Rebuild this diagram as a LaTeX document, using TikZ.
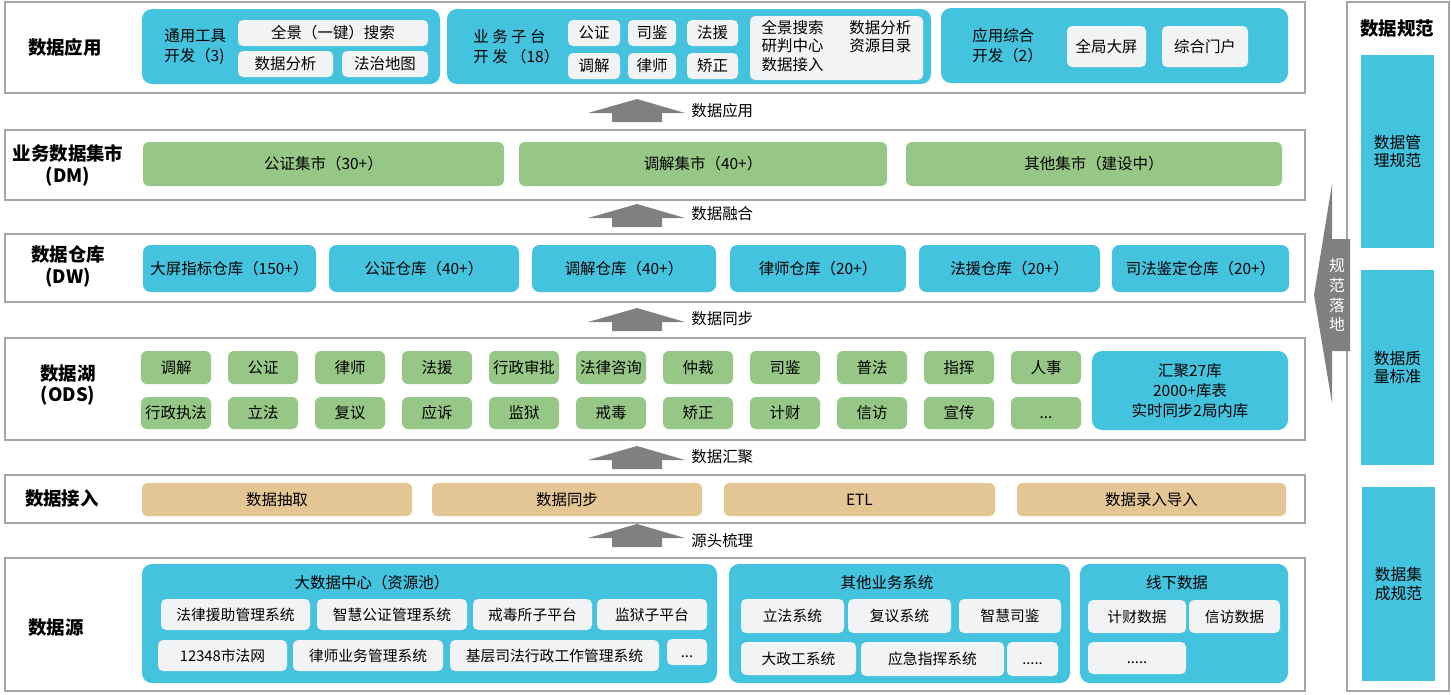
\documentclass[tikz,border=0pt]{standalone}
\usepackage{fontspec}
\setmainfont{Noto Sans CJK SC}
\usetikzlibrary{positioning}

\definecolor{cyanfill}{HTML}{44C3DF}
\definecolor{greenfill}{HTML}{97C786}
\definecolor{tanfill}{HTML}{E4C594}
\definecolor{palefill}{HTML}{F2F3F5}
\definecolor{framegray}{HTML}{A5A5A5}
\definecolor{arrowgray}{HTML}{808080}

% block arrow between two layers: tip y, label y, name, label
\newcommand{\layerarrow}[4]{%
  \fill[arrowgray] (588,#1+14) -- (637,#1) -- (685,#1+14) -- (662,#1+14)
    -- (662,#1+23) -- (612,#1+23) -- (612,#1+14) -- cycle;
  \node[flowtag, anchor=west] (#3) at (691,#2) {#4};
}

\begin{document}
\begin{tikzpicture}[x=0.02cm, y=-0.02cm, font=\fontsize{8.8}{10.5}\selectfont]
\tikzset{
    rect/.style n args={4}{at={({((#1)+(#3))/2},{((#2)+(#4))/2})},
      minimum width={((#3)-(#1))*0.02cm}, minimum height={((#4)-(#2))*0.02cm}},
    layer/.style = {draw=framegray, line width=0.8pt, fill=white, inner sep=0pt, outer sep=0pt},
    tag/.style = {font=\bfseries\fontsize{10.5}{12.5}\selectfont, align=center},
    bigblk/.style = {fill=cyanfill, rounded corners=0.2cm, inner sep=0pt, outer sep=0pt},
    subblk/.style = {fill=palefill, rounded corners=0.1cm, inner sep=0pt, outer sep=0pt, align=center},
    srcbox/.style = {subblk, font=\fontsize{8.4}{10}\selectfont},
    greenbox/.style = {fill=greenfill, rounded corners=0.12cm, inner sep=0pt, align=center},
    cyanbox/.style = {fill=cyanfill, rounded corners=0.15cm, inner sep=0pt, align=center},
    tanbox/.style = {fill=tanfill, rounded corners=0.1cm, inner sep=0pt, align=center},
    blkname/.style = {align=left, anchor=west, inner sep=0pt, font=\fontsize{8.8}{11.3}\selectfont},
    flowtag/.style = {inner sep=0pt},
    normbox/.style = {fill=cyanfill, inner sep=0pt, align=center, font=\fontsize{9}{10.5}\selectfont},
}
\useasboundingbox (0,0) rectangle (1451,694);

% layer frames
\node[layer, rect={5}{2}{1305}{93}] (app) {};
\node[layer, rect={5}{130}{1305}{200}] (dm) {};
\node[layer, rect={5}{234}{1305}{302}] (dw) {};
\node[layer, rect={5}{338}{1305}{440}] (ods) {};
\node[layer, rect={5}{475}{1305}{523}] (acc) {};
\node[layer, rect={5}{558}{1305}{691}] (src) {};
\node[layer, rect={1347}{2}{1449}{691}] (norm) {};

% layer tags
\node[tag] (tapp) at (65,47) {数据应用};
\node[tag] (tdm) at (68,165) {业务数据集市\\(DM)};
\node[tag] (tdw) at (68,266) {数据仓库\\(DW)};
\node[tag] (tods) at (68,385) {数据湖\\(ODS)};
\node[tag] (tacc) at (62,499) {数据接入};
\node[tag] (tsrc) at (56,628) {数据源};

% data application
\node[bigblk, rect={142}{9}{440}{84}] (tool) {};
\node[blkname] (toolname) at (164,47) {通用工具\\开发（3)};
\node[subblk, rect={238}{20}{428}{46}] (search) {全景（一键）搜索};
\node[subblk, rect={238}{51}{333}{77}] (analysis) {数据分析};
\node[subblk, rect={342}{51}{428}{77}] (lawmap) {法治地图};

\node[bigblk, rect={447}{9}{931}{84}] (biz) {};
\node[blkname] (bizname) at (473,47) {业\ 务\ 子\ 台\\开\ 发\ （18）};
\node[subblk, rect={568}{20}{620}{46}] (bgz) {公证};
\node[subblk, rect={628}{20}{676}{46}] (bsj) {司鉴};
\node[subblk, rect={687}{20}{738}{46}] (bfy) {法援};
\node[subblk, rect={568}{53}{620}{79}] (btj) {调解};
\node[subblk, rect={628}{53}{676}{79}] (bls) {律师};
\node[subblk, rect={687}{53}{738}{79}] (bjz) {矫正};
\node[subblk, rect={750}{16}{923}{80}] (bcenter) {%
  \begin{tabular}{@{}l@{\hspace{0.52cm}}l@{}}
  全景搜索 & 数据分析\\
  研判中心 & 资源目录\\
  数据接入 & \\
  \end{tabular}};

\node[bigblk, rect={941}{8}{1288}{83}] (suite) {};
\node[blkname] (suitename) at (972,46) {应用综合\\开发（2）};
\node[subblk, rect={1067}{26}{1146}{67}] (screen) {全局大屏};
\node[subblk, rect={1162}{26}{1248}{67}] (portal) {综合门户};

% flows between layers
\layerarrow{99}{111}{fapp}{数据应用}
\layerarrow{204}{214}{ffuse}{数据融合}
\layerarrow{308}{319}{fsync}{数据同步}
\layerarrow{446}{457}{fgather}{数据汇聚}
\layerarrow{524}{541}{fsource}{源头梳理}

% data marts
\node[greenbox, rect={143}{142}{504}{186}] (gzmart) {公证集市（30+）};
\node[greenbox, rect={519}{142}{887}{186}] (tjmart) {调解集市（40+）};
\node[greenbox, rect={906}{142}{1282}{186}] (othermart) {其他集市（建设中）};

% data warehouse
\node[cyanbox, rect={143}{245}{316}{292}] (dwscreen) {大屏指标仓库（150+）};
\node[cyanbox, rect={329}{245}{519}{292}] (dwgz) {公证仓库（40+）};
\node[cyanbox, rect={532}{245}{716}{292}] (dwtj) {调解仓库（40+）};
\node[cyanbox, rect={730}{245}{906}{292}] (dwls) {律师仓库（20+）};
\node[cyanbox, rect={919}{245}{1100}{292}] (dwfy) {法援仓库（20+）};
\node[cyanbox, rect={1112}{245}{1289}{292}] (dwsj) {司法鉴定仓库（20+）};

% data lake
\foreach \a/\b [count=\i from 0] in {调解/行政执法, 公证/立法, 律师/复议, 法援/应诉,
    行政审批/监狱, 法律咨询/戒毒, 仲裁/矫正, 司鉴/计财, 普法/信访, 指挥/宣传, 人事/{\vphantom{调}.{}.{}.}} {
  \node[greenbox, rect={141+87*\i}{351}{211+87*\i}{384}] (odsa\i) {\a};
  \node[greenbox, rect={141+87*\i}{397}{211+87*\i}{429}] (odsb\i) {\b};
}
\node[cyanbox, rect={1092}{351}{1288}{430}, rounded corners=0.2cm, font=\fontsize{8.8}{11.3}\selectfont] (odssum)
  {汇聚27库\\2000+库表\\实时同步2局内库};

% data access
\node[tanbox, rect={142}{483}{412}{516}] (extract) {数据抽取};
\node[tanbox, rect={432}{483}{702}{516}] (syncjob) {数据同步};
\node[tanbox, rect={724}{483}{995}{516}] (etl) {ETL};
\node[tanbox, rect={1017}{483}{1286}{516}] (entry) {数据录入导入};

% data sources
\node[bigblk, rect={142}{564}{717}{683}] (bigdata) {};
\node (bigdatatitle) at (372,583) {大数据中心（资源池）};
\node[srcbox, rect={161}{599}{310}{630}] (s1) {法律援助管理系统};
\node[srcbox, rect={317}{599}{467}{630}] (s2) {智慧公证管理系统};
\node[srcbox, rect={473}{599}{592}{630}] (s3) {戒毒所子平台};
\node[srcbox, rect={597}{599}{707}{630}] (s4) {监狱子平台};
\node[srcbox, rect={158}{640}{287}{671}] (s5) {12348市法网};
\node[srcbox, rect={293}{640}{443}{671}] (s6) {律师业务管理系统};
\node[srcbox, rect={450}{640}{659}{671}] (s7) {基层司法行政工作管理系统};
\node[srcbox, rect={667}{639}{707}{665}] (s8) {\vphantom{调}.{}.{}.};

\node[bigblk, rect={729}{564}{1070}{683}] (otherbiz) {};
\node (otherbiztitle) at (887,583) {其他业务系统};
\node[srcbox, rect={741}{599}{844}{633}] (o1) {立法系统};
\node[srcbox, rect={848}{599}{951}{633}] (o2) {复议系统};
\node[srcbox, rect={959}{599}{1061}{633}] (o3) {智慧司鉴};
\node[srcbox, rect={741}{642}{856}{675}] (o4) {大政工系统};
\node[srcbox, rect={861}{642}{1004}{676}] (o5) {应急指挥系统};
\node[srcbox, rect={1007}{642}{1058}{676}] (o6) {\vphantom{调}.....};

\node[bigblk, rect={1080}{564}{1288}{683}] (offline) {};
\node (offlinetitle) at (1177,583) {线下数据};
\node[srcbox, rect={1088}{600}{1186}{633}] (f1) {计财数据};
\node[srcbox, rect={1189}{600}{1280}{633}] (f2) {信访数据};
\node[srcbox, rect={1088}{642}{1186}{674}] (f3) {\vphantom{调}.....};

% data norms
\node[tag] (normtitle) at (1397,29) {数据规范};
\node[normbox, rect={1361}{55}{1434}{248}] (mgmt) {数据管\\理规范};
\node[normbox, rect={1361}{270}{1434}{465}] (quality) {数据质\\量标准};
\node[normbox, rect={1362}{487}{1435}{681}] (integ) {数据集\\成规范};

% landing arrow
\fill[arrowgray] (1332,184) -- (1314,295) -- (1332,403) -- (1332,351)
  -- (1350,351) -- (1350,239) -- (1332,239) -- cycle;
\node[text=white, align=center, font=\fontsize{9}{11.3}\selectfont] (landing) at (1337,295) {规\\范\\落\\地};
\end{tikzpicture}
\end{document}
